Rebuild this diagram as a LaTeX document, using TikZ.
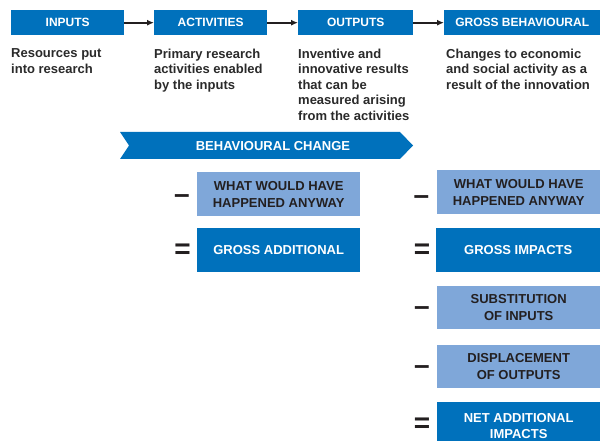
\documentclass[tikz,border=0pt]{standalone}
\usepackage{fontspec}
\setmainfont{Liberation Sans}
\usetikzlibrary{arrows.meta}
\definecolor{dblue}{HTML}{0071BC}
\definecolor{lblue}{HTML}{7FA7D9}
\definecolor{ink}{HTML}{231F20}
\definecolor{desctext}{HTML}{2A2A2A}
\begin{document}
\begin{tikzpicture}[x=1pt,y=-1pt,
  hdr/.style={fill=dblue,text=white,font=\bfseries\fontsize{12}{14}\selectfont,
    inner sep=0pt,minimum height=25pt,anchor=north west},
  desc/.style={text=desctext,font=\bfseries\fontsize{13}{15.5}\selectfont,
    align=left,inner sep=0pt,anchor=north west},
  lbox/.style={fill=lblue,text=ink,font=\bfseries\fontsize{13}{17}\selectfont,
    align=center,inner sep=0pt,anchor=north west},
  dbox/.style={fill=dblue,text=white,font=\bfseries\fontsize{13}{16}\selectfont,
    align=center,inner sep=0pt,anchor=north west},
  op/.style={text=ink,font=\bfseries\fontsize{28}{30}\selectfont,inner sep=0pt,anchor=center},
  conn/.style={draw=ink,line width=1.8pt,-{Latex[length=7pt,width=6pt]}}
]
\path[use as bounding box] (0,0) rectangle (600,441);
\clip (0,0) rectangle (600,441);

% stage headers
\node[hdr,minimum width=113pt] (inputs) at (11,10) {INPUTS};
\node[hdr,minimum width=113pt] (activities) at (154,10) {ACTIVITIES};
\node[hdr,minimum width=115pt] (outputs) at (298,10) {OUTPUTS};
\node[hdr,minimum width=156pt] (grossbeh) at (444,10) {GROSS BEHAVIOURAL};

\draw[conn] (inputs) -- (activities);
\draw[conn] (activities) -- (outputs);
\draw[conn] (outputs) -- (grossbeh);

% stage descriptions
\node[desc] (dinputs) at (11,48.6) {Resources put\\into research};
\node[desc] (dactivities) at (154,48.6) {Primary research\\activities enabled\\by the inputs};
\node[desc] (doutputs) at (298,48.6) {Inventive and\\innovative results\\that can be\\measured arising\\from the activities};
\node[desc] (dgross) at (446,48.6) {Changes to economic\\and social activity as a\\result of the innovation};

% behavioural change banner
\fill[dblue] (120,132) -- (400,132) -- (413,145.5) -- (400,159) -- (120,159) -- (129,145.5) -- cycle;
\node[text=white,font=\bfseries\fontsize{13}{15}\selectfont,inner sep=0pt] (banner) at (273,146) {BEHAVIOURAL CHANGE};

% left column
\node[lbox,minimum width=163pt,minimum height=44pt] (anywayA) at (197,172) {WHAT WOULD HAVE\\HAPPENED ANYWAY};
\node[dbox,minimum width=163pt,minimum height=44pt] (grossadd) at (197,228) {GROSS ADDITIONAL};
\node[op] (minusA) at (182,199) {–};
\node[op] (eqA) at (182.5,251) {=};

% right column
\node[lbox,minimum width=163pt,minimum height=44pt] (anywayB) at (437,170) {WHAT WOULD HAVE\\HAPPENED ANYWAY};
\node[dbox,minimum width=164pt,minimum height=44pt] (grossimp) at (436,228) {GROSS IMPACTS};
\node[lbox,minimum width=163pt,minimum height=43pt] (subst) at (437,286) {SUBSTITUTION\\OF INPUTS};
\node[lbox,minimum width=163pt,minimum height=43pt] (displ) at (437,345) {DISPLACEMENT\\OF OUTPUTS};
\node[dbox,minimum width=163pt,minimum height=47.6pt] (netadd) at (437,402) {NET ADDITIONAL\\IMPACTS};
\node[op] (minusB) at (421.5,200.5) {–};
\node[op] (eqB) at (422,251) {=};
\node[op] (minusC) at (422,311) {–};
\node[op] (minusD) at (422,370) {–};
\node[op] (eqC) at (422,425) {=};
\end{tikzpicture}
\end{document}
